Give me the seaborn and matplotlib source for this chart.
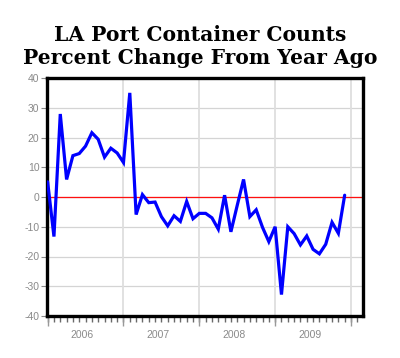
import matplotlib
matplotlib.use("Agg")
import matplotlib.pyplot as plt
from matplotlib.ticker import FixedLocator, NullFormatter
import seaborn as sns
import pandas as pd
import numpy as np

# Data: monthly % change from year ago, Jan 2006 - Dec 2009
years = ["2006", "2007", "2008", "2009"]
months = [f"{y}-{m:02d}" for y in years for m in range(1, 13)]
pct_change = [5.1, -13.3, 27.9, 5.9, 13.9, 14.6, 17.1, 21.6, 19.4, 13.4, 16.4, 14.8,
              11.6, 35.0, -5.9, 0.8, -1.9, -1.7, -6.6, -9.7, -6.3, -8.2, -1.5, -7.3,
              -5.5, -5.5, -7.0, -10.8, 0.6, -11.7, -2.8, 5.9, -6.6, -4.3, -10.2, -15.0,
              -10.0, -32.8, -10.0, -12.3, -16.1, -13.1, -17.6, -19.1, -15.9, -8.5, -12.2, 0.6]
y_ticks = [-40, -30, -20, -10, 0, 10, 20, 30, 40]

df = pd.DataFrame({"month": months, "pct": pct_change})
df["idx"] = np.arange(len(df))

sns.set_style("white")
fig = plt.figure(figsize=(4.0, 3.58), dpi=100)
ax = fig.add_axes([47/400, 1-316/358, (363-47)/400, (316-78)/358])

# grid
for yv in y_ticks:
    ax.axhline(yv, color="#d4d4d4", lw=0.9, zorder=0)
for k in range(1, len(years) + 1):
    ax.axvline(12*k - 0.05, color="#dedede", lw=1.3, zorder=0)
ax.axhline(0, color="#ff1010", lw=0.9, zorder=1)

sns.lineplot(data=df, x="idx", y="pct", ax=ax, color="#0000ff", lw=2.3,
             zorder=3, solid_joinstyle="miter")

ax.set_xlim(-0.1, 49.9)
ax.set_ylim(-40, 40)
ax.set_xlabel("")
ax.set_ylabel("")
for s in ax.spines.values():
    s.set_visible(True)
    s.set_color("black")
    s.set_linewidth(2.4)

ax.set_yticks(y_ticks)
ax.set_yticklabels([str(v) for v in y_ticks], color="#8a8a8a", fontsize=7.5,
                   family="Liberation Sans")
ax.tick_params(axis="y", length=4, width=0.8, color="#8a8a8a", direction="out", pad=1.5,
               left=True)

# monthly ticks (major, short) and year-boundary ticks (minor, long)
ax.xaxis.remove_overlapping_locs = False
ax.xaxis.set_major_locator(FixedLocator(list(range(0, 51))))
ax.xaxis.set_major_formatter(NullFormatter())
ax.xaxis.set_minor_locator(FixedLocator([12*k for k in range(len(years) + 1)]))
ax.xaxis.set_minor_formatter(NullFormatter())
ax.tick_params(axis="x", which="major", length=4.5, width=1.0, color="#6a6a6a", direction="out",
               bottom=True)
ax.tick_params(axis="x", which="minor", length=7, width=1.0, color="#999999", direction="out",
               bottom=True)
for i, yr in enumerate(years):
    ax.text(12*i + 5.5, -0.08, yr, transform=ax.get_xaxis_transform(), ha="center",
            va="center", color="#8a8a8a", fontsize=7.5, family="Liberation Sans")

fig.text(0.5, 1-35/358, "LA Port Container Counts", ha="center", va="center",
         fontsize=14.6, fontweight="bold", family="DejaVu Serif", color="black")
fig.text(0.5, 1-58/358, "Percent Change From Year Ago", ha="center", va="center",
         fontsize=14.6, fontweight="bold", family="DejaVu Serif", color="black")

fig.savefig("out.png", dpi=100, facecolor="white")
